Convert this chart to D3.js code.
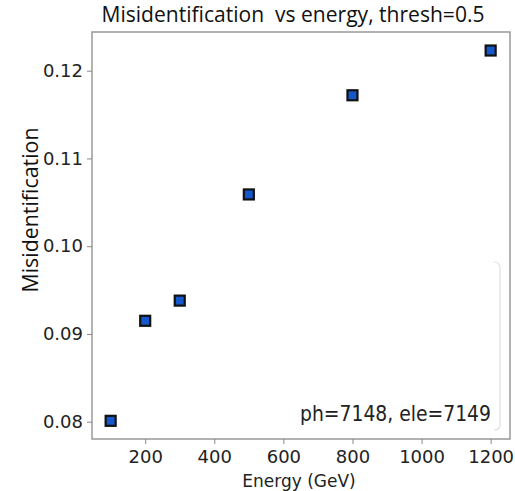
<!DOCTYPE html>
<html>
<head>
<meta charset="utf-8">
<script src="https://cdn.jsdelivr.net/npm/d3@7"></script>
<style>
  body { margin: 0; background: #fff; }
  svg { display: block; }
</style>
</head>
<body>
<div id="container"></div>
<script>
// data
var energy = [100, 200, 300, 500, 800, 1200];
var misid = [0.0801, 0.0915, 0.0938, 0.1059, 0.1172, 0.1223];
var xTicks = [200, 400, 600, 800, 1000, 1200];
var yTicks = [0.08, 0.09, 0.10, 0.11, 0.12];
var legendText = "ph=7148, ele=7149";

var width = 515, height = 491;
var margin = {top: 32, right: 5, bottom: 52, left: 92};
var w = width - margin.left - margin.right;
var h = height - margin.top - margin.bottom;

var svg = d3.select("#container").append("svg")
    .attr("width", width)
    .attr("height", height);

var g = svg.append("g")
    .attr("transform", "translate(" + margin.left + "," + margin.top + ")");

var x = d3.scaleLinear().domain([46, 1256]).range([0, w]);
var y = d3.scaleLinear().domain([0.07803, 0.12441]).range([h, 0]);

//frame
g.append("rect")
    .attr("width", w).attr("height", h)
    .attr("fill", "none")
    .attr("stroke", "#999")
    .attr("stroke-width", 1.5);

//axes
var xAxis = g.append("g")
    .attr("transform", "translate(0," + h + ")")
    .call(d3.axisBottom(x).tickValues(xTicks).tickFormat(d3.format("d")).tickSize(5).tickPadding(6));
var yAxis = g.append("g")
    .call(d3.axisLeft(y).tickValues(yTicks).tickFormat(d3.format(".2f")).tickSize(5).tickPadding(4));

[xAxis, yAxis].forEach(function(a) {
    a.select(".domain").remove();
    a.selectAll(".tick line").attr("stroke", "#888");
    a.selectAll(".tick text")
        .attr("fill", "#222")
        .style("font-family", "'DejaVu Sans'")
        .style("font-size", "18px");
});

//legend frame (only the right side shows in the picture)
g.append("path")
    .attr("d", "M402,230 q6,0 6,6 L408,393 q0,5 -6,5")
    .attr("fill", "none")
    .attr("stroke", "#dedede")
    .attr("stroke-width", 1.2);
g.append("text")
    .attr("x", 208).attr("y", 389)
    .attr("textLength", 191)
    .attr("lengthAdjust", "spacingAndGlyphs")
    .style("font-family", "'DejaVu Sans'")
    .style("font-size", "21px")
    .attr("fill", "#222")
    .text(legendText);

//points
g.selectAll(".pt")
    .data(energy)
    .enter().append("rect")
    .attr("class", "pt")
    .attr("x", function(d) { return x(d) - 5; })
    .attr("y", function(d, i) { return y(misid[i]) - 5; })
    .attr("width", 10).attr("height", 10)
    .attr("fill", "#1558cc")
    .attr("stroke", "#111")
    .attr("stroke-width", 2.2);

//title
svg.append("text")
    .attr("x", 293).attr("y", 22)
    .attr("text-anchor", "middle")
    .attr("textLength", 383)
    .attr("lengthAdjust", "spacingAndGlyphs")
    .style("white-space", "pre")
    .style("font-family", "'Open Sans'")
    .style("font-size", "21px")
    .attr("fill", "#111")
    .text("Misidentification  vs energy, thresh=0.5");

//x label
svg.append("text")
    .attr("x", 299).attr("y", 487)
    .attr("text-anchor", "middle")
    .style("font-family", "'DejaVu Sans'")
    .style("font-size", "17px")
    .attr("fill", "#222")
    .text("Energy (GeV)");

//y label
svg.append("text")
    .attr("transform", "translate(38,210) rotate(-90)")
    .attr("text-anchor", "middle")
    .attr("textLength", 165)
    .attr("lengthAdjust", "spacingAndGlyphs")
    .style("font-family", "'Open Sans'")
    .style("font-size", "22px")
    .attr("fill", "#111")
    .text("Misidentification");
</script>
</body>
</html>
